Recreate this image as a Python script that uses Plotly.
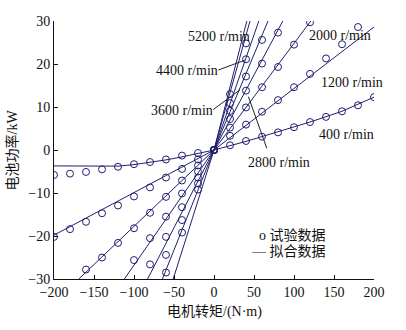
import plotly.graph_objects as go

# ---------------- data ----------------
speeds = ["400", "1200", "2000", "2800", "3600", "4400", "5200"]

torque_pos = [20, 40, 60, 80, 100, 120, 140, 160, 180, 200]
torque_neg = [-20, -40, -60, -80, -100, -120, -140, -160, -180, -200]

p400_pos = [1.1, 2.1, 3.1, 4.1, 5.3, 6.5, 7.7, 9.0, 10.4, 12.3]
p1200_pos = [3.3, 5.9, 8.9, 11.6, 14.6, 17.7, 21.3, 24.6, 28.6]
p2000_pos = [5.2, 9.9, 14.6, 19.3, 24.5, 29.7]
p2800_pos = [7.2, 13.8, 20.1, 27.3]
p3600_pos = [9.1, 17.1, 25.6]
p4400_pos = [10.9, 21.1]
p5200_pos = [13.0, 24.8]

p400_neg = [-0.7, -1.3, -2.2, -2.8, -3.3, -3.9, -4.5, -5.1, -5.5, -5.8]
p1200_neg = [-2.2, -4.4, -6.4, -8.7, -10.8, -12.9, -14.7, -16.7, -18.4, -20.2]
p2000_neg = [-3.6, -7.1, -10.9, -14.6, -18.2, -21.6, -25.0, -27.8]
p2800_neg = [-5.0, -10.1, -15.5, -20.5, -25.6]
p3600_neg = [-6.4, -13.3, -20.2, -26.6]
p4400_neg = [-7.8, -16.3, -24.4]
p5200_neg = [-9.2, -19.2, -28.5]

# fitted curves
fit400_T = [-200, -160, -120, -100, -80, -60, -40, -20, 0, 40, 80, 120, 160, 200]
fit400_P = [-3.7, -3.8, -3.75, -3.4, -2.9, -2.3, -1.6, -0.8, 0, 2.0, 4.2, 6.5, 9.0, 12.3]
fit1200_T = [-200, 0, 200]
fit1200_P = [-19.8, 0, 28.6]
fit2000_T = [-169, 0, 121]
fit2000_P = [-30, 0, 30]
fit2800_T = [-112, 0, 86]
fit2800_P = [-30, 0, 30]
fit3600_T = [-83, 0, 67.5]
fit3600_P = [-30, 0, 30]
fit4400_T = [-64.5, 0, 56]
fit4400_P = [-30, 0, 30]
fit5200_T = [-51, 0, 45]
fit5200_P = [-30, 0, 30]
fit_extra_T = [0, 41]
fit_extra_P = [0, 30]

label_text = ["5200 r/min", "4400 r/min", "3600 r/min", "2000 r/min",
              "1200 r/min", "400 r/min", "2800 r/min"]
label_T = [-35, -74.6, -81, 115.9, 131, 128.4, 40]
label_P = [26.5, 18.4, 9.3, 26.7, 15.7, 3.7, -2.9]

# leader lines (from label to curve)
leader4400_T = [5.4, 38.7]
leader4400_P = [18.6, 20.9]
leader3600_T = [-1.0, 32.5]
leader3600_P = [9.4, 14.0]
leader2800_T = [43, 66]
leader2800_P = [12.4, 0.4]

# ---------------- figure ----------------
NAVY = "#1f1f6e"
SERIF = "Liberation Serif, Times New Roman, serif"
CJK = "Liberation Serif, Noto Sans CJK SC, sans-serif"

fig = go.Figure()

fits = [(fit400_T, fit400_P), (fit1200_T, fit1200_P), (fit2000_T, fit2000_P),
        (fit2800_T, fit2800_P), (fit3600_T, fit3600_P), (fit4400_T, fit4400_P),
        (fit5200_T, fit5200_P), (fit_extra_T, fit_extra_P)]
for tx, py in fits:
    fig.add_trace(go.Scatter(x=tx, y=py, mode="lines",
                             line=dict(color=NAVY, width=1), showlegend=False,
                             hoverinfo="skip"))

for lt, lp in [(leader4400_T, leader4400_P), (leader3600_T, leader3600_P),
               (leader2800_T, leader2800_P)]:
    fig.add_trace(go.Scatter(x=lt, y=lp, mode="lines",
                             line=dict(color="#222222", width=1), showlegend=False,
                             hoverinfo="skip"))

series = [(p400_pos, p400_neg), (p1200_pos, p1200_neg), (p2000_pos, p2000_neg),
          (p2800_pos, p2800_neg), (p3600_pos, p3600_neg), (p4400_pos, p4400_neg),
          (p5200_pos, p5200_neg)]
for name, (pp, pn) in zip(speeds, series):
    xs = torque_neg[:len(pn)][::-1] + [0] + torque_pos[:len(pp)]
    ys = pn[::-1] + [0] + pp
    fig.add_trace(go.Scatter(x=xs, y=ys, mode="markers", name=name + " r/min",
                             marker=dict(symbol="circle-open", size=7,
                                         color=NAVY, line=dict(width=1, color=NAVY)),
                             showlegend=False))

annotations = []
for t, tx, py in zip(label_text, label_T, label_P):
    annotations.append(dict(x=tx, y=py, xref="x", yref="y", text=t, showarrow=False,
                            xanchor="left", yanchor="middle",
                            font=dict(family=SERIF, size=14, color="#111111")))

annotations += [
    dict(x=0.857, y=0.1667, xref="paper", yref="paper", text="o 试验数据",
         showarrow=False, xanchor="right", yanchor="middle",
         font=dict(family=CJK, size=14, color="#111111")),
    dict(x=0.857, y=0.1085, xref="paper", yref="paper", text="— 拟合数据",
         showarrow=False, xanchor="right", yanchor="middle",
         font=dict(family=CJK, size=14, color="#111111")),
    dict(x=0.5, y=-0.126, xref="paper", yref="paper", text="电机转矩/(N·m)",
         showarrow=False, xanchor="center", yanchor="middle",
         font=dict(family=CJK, size=14, color="#111111")),
    dict(x=-0.1297, y=0.5, xref="paper", yref="paper", text="电池功率/kW",
         showarrow=False, xanchor="center", yanchor="middle", textangle=-90,
         font=dict(family=CJK, size=14, color="#111111")),
]

fig.update_layout(
    width=406, height=330,
    margin=dict(l=54, r=32, t=21, b=51, pad=0),
    paper_bgcolor="white", plot_bgcolor="white",
    annotations=annotations,
    showlegend=False,
)
axis_common = dict(showgrid=False, zeroline=False, showline=True, linecolor="#111111",
                   linewidth=1, ticks="inside", ticklen=4, tickwidth=1,
                   tickcolor="#111111", mirror=False,
                   tickfont=dict(family=SERIF, size=14, color="#111111"))
fig.update_xaxes(range=[-200, 200], tickvals=[-200, -150, -100, -50, 0, 50, 100, 150, 200],
                 **axis_common)
fig.update_yaxes(range=[-30, 30], tickvals=[-30, -20, -10, 0, 10, 20, 30], **axis_common)

fig.write_html("out.html")
